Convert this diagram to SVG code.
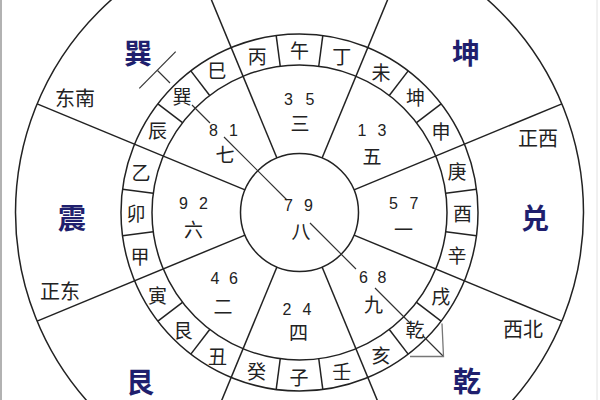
<svg xmlns="http://www.w3.org/2000/svg" width="600" height="400" viewBox="0 0 600 400">
<style>
.ln{stroke:#222;stroke-width:1.5;fill:none}
.dg{stroke:#333;stroke-width:1.2;fill:none}
.ar{stroke:#777;stroke-width:1.3;fill:none}
text{font-family:"Noto Sans CJK SC","Noto Sans",sans-serif;text-anchor:middle;dominant-baseline:central;fill:#222}
.gua{font-size:28px;font-weight:bold;fill:#1f1f6e}
.dir{font-size:20px}
.mt{font-size:19px}
.pn{font-size:19px}
.dgt{font-family:"Liberation Sans",Arial,sans-serif;font-size:16px}
</style>
<rect x="0" y="0" width="600" height="400" fill="#fff"/>
<line x1="1" y1="0" x2="1" y2="400" stroke="#999" stroke-width="1.5"/>
<line x1="597" y1="0" x2="597" y2="400" stroke="#e2e2e2" stroke-width="1"/>

<g id="rings" class="ln">
<circle cx="299.5" cy="212.5" r="284"/>
<circle cx="299.5" cy="212.5" r="178.5"/>
<circle cx="299.5" cy="212.5" r="147.5"/>
<circle cx="299.5" cy="212.5" r="59"/>
</g>

<g id="connectors">
<g id="sector-lines" class="ln">
<line x1="354.01" y1="189.92" x2="561.88" y2="103.82"/>
<line x1="322.08" y1="158.0" x2="408.18" y2="-49.88"/>
<line x1="276.92" y1="158.0" x2="190.82" y2="-49.88"/>
<line x1="244.99" y1="189.92" x2="37.12" y2="103.82"/>
<line x1="244.99" y1="235.08" x2="37.12" y2="321.18"/>
<line x1="276.92" y1="267.01" x2="190.82" y2="474.88"/>
<line x1="322.08" y1="267.01" x2="408.18" y2="474.88"/>
<line x1="354.01" y1="235.08" x2="561.88" y2="321.18"/>
</g>
<g id="mountain-lines" class="ln">
<line x1="445.74" y1="193.25" x2="476.47" y2="189.2"/>
<line x1="416.52" y1="122.71" x2="441.11" y2="103.84"/>
<line x1="389.29" y1="95.48" x2="408.16" y2="70.89"/>
<line x1="318.75" y1="66.26" x2="322.8" y2="35.53"/>
<line x1="280.25" y1="66.26" x2="276.2" y2="35.53"/>
<line x1="209.71" y1="95.48" x2="190.84" y2="70.89"/>
<line x1="182.48" y1="122.71" x2="157.89" y2="103.84"/>
<line x1="153.26" y1="193.25" x2="122.53" y2="189.2"/>
<line x1="153.26" y1="231.75" x2="122.53" y2="235.8"/>
<line x1="182.48" y1="302.29" x2="157.89" y2="321.16"/>
<line x1="209.71" y1="329.52" x2="190.84" y2="354.11"/>
<line x1="280.25" y1="358.74" x2="276.2" y2="389.47"/>
<line x1="318.75" y1="358.74" x2="322.8" y2="389.47"/>
<line x1="389.29" y1="329.52" x2="408.16" y2="354.11"/>
<line x1="416.52" y1="302.29" x2="441.11" y2="321.16"/>
<line x1="445.74" y1="231.75" x2="476.47" y2="235.8"/>
</g>
<g id="axis-line">
<line class="dg" x1="139.3" y1="88.3" x2="175.7" y2="51.7"/>
<path class="dg" d="M157.5 70.5L170 83M192 105L210 123M224 137L287 200M310 223L356 269M375 288L410 323M423 336L443.5 356.5"/>
<path class="ar" d="M442 323.5L443.5 356.5L410 356.5"/>
</g>
</g>

<g id="trigrams">
<text id="xun" class="gua" x="138" y="52">巽</text>
<text id="kun" class="gua" x="466" y="52">坤</text>
<text id="zhen" class="gua" x="72" y="217">震</text>
<text id="dui" class="gua" x="535" y="217">兑</text>
<text id="gen" class="gua" x="140" y="381">艮</text>
<text id="qian" class="gua" x="467" y="380">乾</text>
</g>

<g id="directions">
<text class="dir" x="75" y="97">东南</text>
<text class="dir" x="538" y="137">正西</text>
<text class="dir" x="60" y="290">正东</text>
<text class="dir" x="523" y="328">西北</text>
</g>

<g id="mountains" class="mt">
<text class="mt" x="299.5" y="49.5">午</text>
<text class="mt" x="257.3" y="55.1">丙</text>
<text class="mt" x="341.7" y="55.1">丁</text>
<text class="mt" x="381" y="71.3">未</text>
<text class="mt" x="415.5" y="96.5">坤</text>
<text class="mt" x="441" y="130.5">申</text>
<text class="mt" x="457" y="170.3">庚</text>
<text class="mt" x="462.5" y="212.5">酉</text>
<text class="mt" x="457" y="254.7">辛</text>
<text class="mt" x="440.7" y="295">戌</text>
<text class="mt" x="415" y="328">乾</text>
<text class="mt" x="381" y="354">亥</text>
<text class="mt" x="341.7" y="370.5">壬</text>
<text class="mt" x="299" y="376">子</text>
<text class="mt" x="256.5" y="370">癸</text>
<text class="mt" x="217.5" y="355">丑</text>
<text class="mt" x="183" y="329">艮</text>
<text class="mt" x="157.5" y="294.5">寅</text>
<text class="mt" x="140" y="255">甲</text>
<text class="mt" x="136" y="212.5">卯</text>
<text class="mt" x="141" y="171">乙</text>
<text class="mt" x="157.5" y="129.5">辰</text>
<text class="mt" x="182" y="95">巽</text>
<text class="mt" x="217" y="69.5">巳</text>
</g>

<g id="palace-s"><text class="dgt" x="288.5" y="99.5">3</text><text class="dgt" x="310" y="99.5">5</text><text class="pn" x="300" y="122">三</text></g>
<g id="palace-sw"><text class="dgt" x="362" y="130">1</text><text class="dgt" x="382" y="130">3</text><text class="pn" x="372" y="155">五</text></g>
<g id="palace-w"><text class="dgt" x="393.5" y="203.5">5</text><text class="dgt" x="414" y="203.5">7</text><text class="pn" x="403.5" y="228">一</text></g>
<g id="palace-nw"><text class="dgt" x="363.5" y="277">6</text><text class="dgt" x="382" y="277">8</text><text class="pn" x="373.5" y="303">九</text></g>
<g id="palace-n"><text class="dgt" x="287" y="309.5">2</text><text class="dgt" x="307" y="309.5">4</text><text class="pn" x="298.5" y="331.5">四</text></g>
<g id="palace-ne"><text class="dgt" x="215" y="278.5">4</text><text class="dgt" x="233.5" y="278.5">6</text><text class="pn" x="223" y="305">二</text></g>
<g id="palace-e"><text class="dgt" x="183.5" y="203.5">9</text><text class="dgt" x="203.5" y="203.5">2</text><text class="pn" x="193.5" y="228">六</text></g>
<g id="palace-se"><text class="dgt" x="213.5" y="130">8</text><text class="dgt" x="233.5" y="130">1</text><text class="pn" x="225" y="153.5">七</text></g>
<g id="palace-c"><text class="dgt" x="288.5" y="205">7</text><text class="dgt" x="308.5" y="205">9</text><text class="pn" x="301" y="230">八</text></g>
</svg>
